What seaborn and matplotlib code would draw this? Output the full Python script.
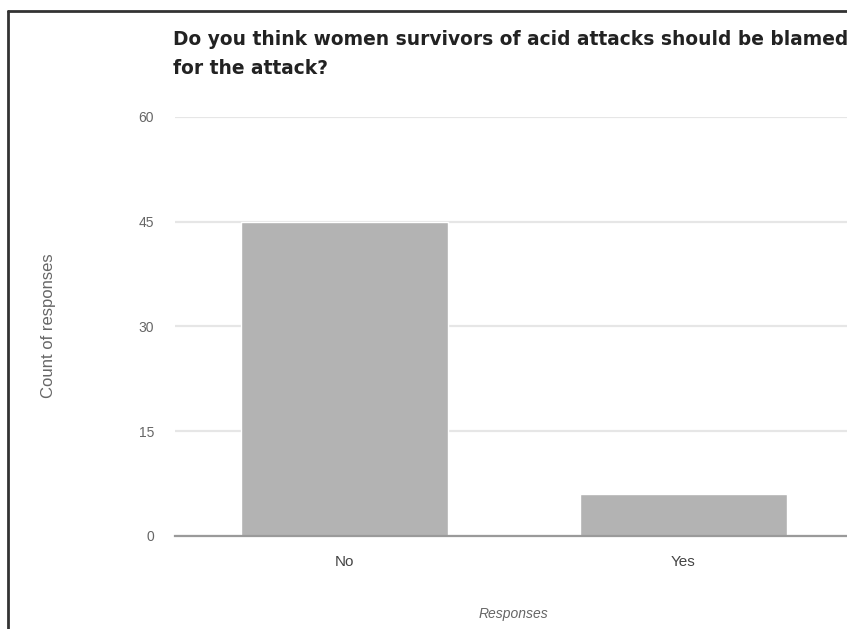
import matplotlib
matplotlib.use("Agg")
import matplotlib.pyplot as plt
import seaborn as sns
import pandas as pd
from matplotlib.lines import Line2D

# Chart data
responses = ["No", "Yes"]
counts = [45, 6]
y_ticks = [0, 15, 30, 45, 60]

title_text = "Do you think women survivors of acid attacks should be blamed\nfor the attack?"


def plot_responses():
    data = pd.DataFrame({"Responses": responses, "Count": counts})

    sns.set_style("white")
    plt.rcParams["font.family"] = ["Liberation Sans", "DejaVu Sans"]

    fig = plt.figure(figsize=(8.47, 6.29), dpi=100)
    ax = fig.add_axes([0.2066, 0.148, 0.800, 0.666])

    sns.barplot(x="Responses", y="Count", data=data, color="#b3b3b3",
                saturation=1, width=0.61, ax=ax, zorder=3)

    ax.set_ylim(0, 60)
    ax.set_xlim(-0.5, 1.5)
    ax.set_yticks(y_ticks)
    ax.set_yticklabels([str(t) for t in y_ticks])
    ax.yaxis.grid(True, color="#e6e6e6", linewidth=1.6, zorder=0)
    ax.set_axisbelow(True)
    for side in ["top", "right", "left"]:
        ax.spines[side].set_visible(False)
    ax.spines["bottom"].set_color("#9a9a9a")
    ax.spines["bottom"].set_linewidth(1.6)
    ax.spines["bottom"].set_zorder(4)

    ax.tick_params(axis="y", length=0, pad=15, labelsize=10, labelcolor="#666666")
    ax.tick_params(axis="x", length=0, pad=14, labelsize=11, labelcolor="#444444")

    ax.set_xlabel("")
    ax.set_ylabel("")
    fig.text(0.606, 0.012, "Responses", fontsize=10, color="#666666",
             style="italic", ha="center", va="bottom")
    fig.text(0.057, 0.483, "Count of responses", rotation=90, fontsize=12,
             color="#666666", ha="center", va="center")

    fig.text(0.204, 0.952, title_text, fontsize=13.4, fontweight="bold",
             family=["DejaVu Sans"], color="#222222", ha="left", va="top",
             linespacing=1.65)

    # screenshot frame on the top and left edges
    fig.add_artist(Line2D([0.009, 1.0], [0.983, 0.983], color="#333333",
                          linewidth=2, transform=fig.transFigure))
    fig.add_artist(Line2D([0.009, 0.009], [0.0, 0.983], color="#333333",
                          linewidth=2, transform=fig.transFigure))

    fig.savefig("out.png", dpi=100)


if __name__ == "__main__":
    plot_responses()
